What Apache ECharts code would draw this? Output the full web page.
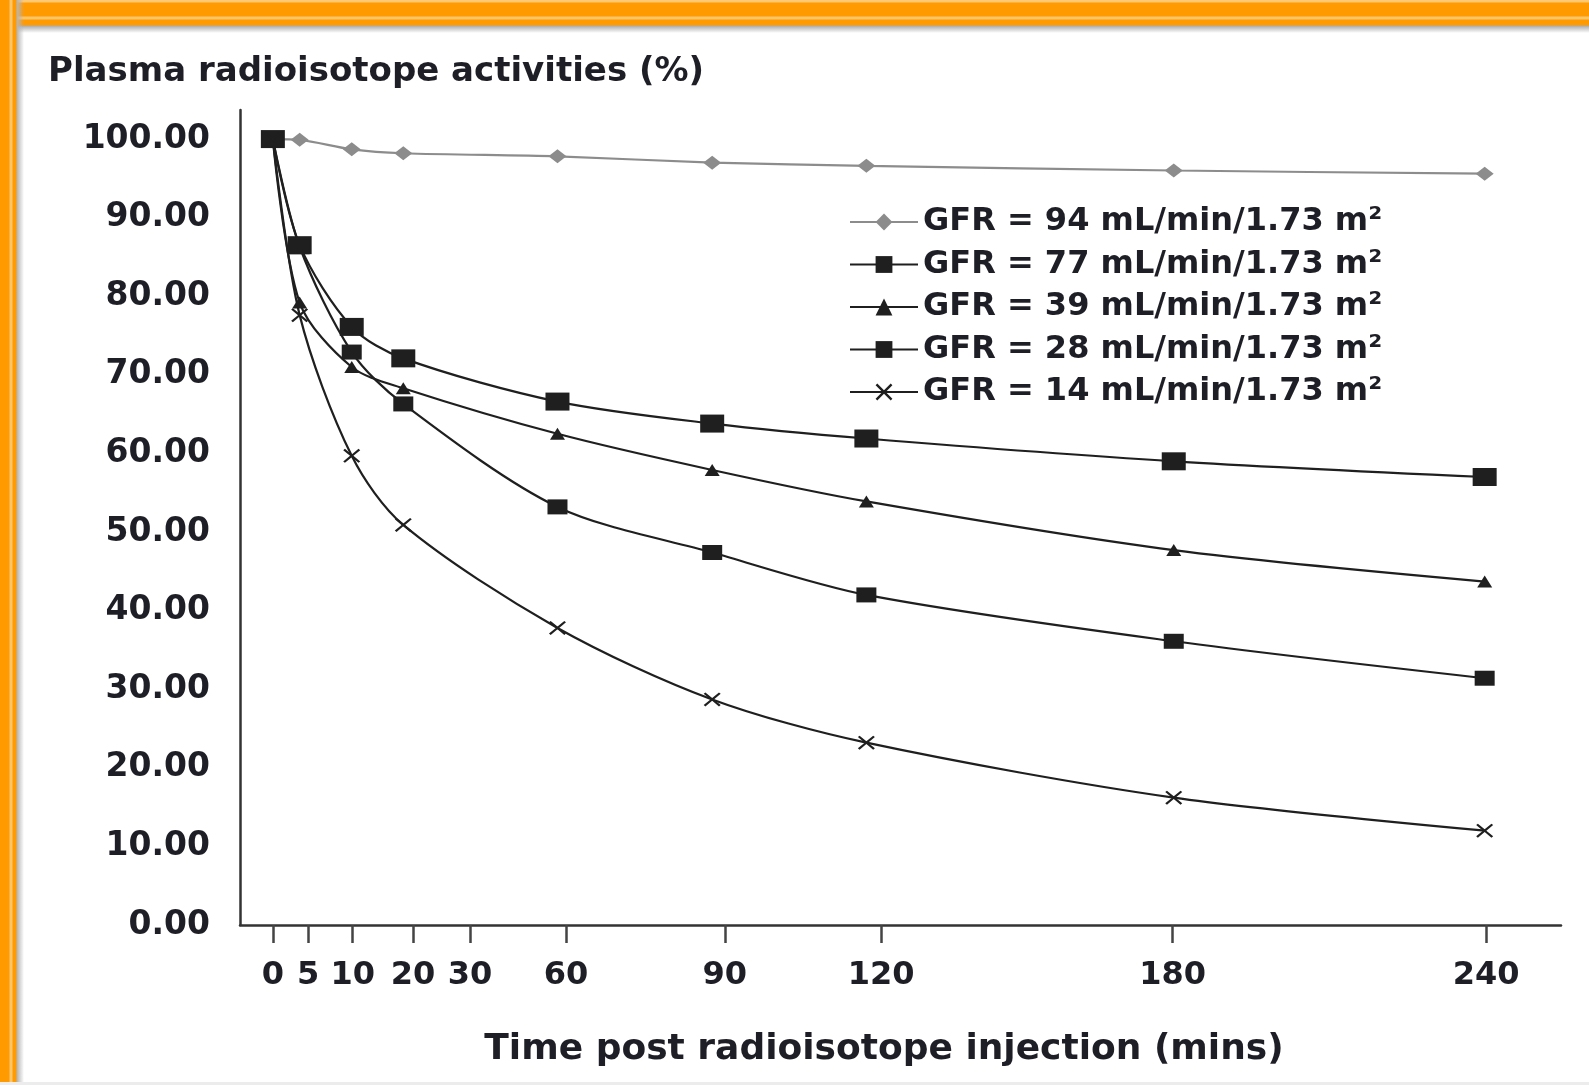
<!DOCTYPE html>
<html>
<head>
<meta charset="utf-8">
<title>Plasma radioisotope activities</title>
<script src="https://cdn.jsdelivr.net/npm/echarts@6/dist/echarts.min.js"></script>
<style>
    html, body { margin: 0; padding: 0; background: #fff; }
    #chart { position: absolute; left: 0; top: 0; width: 1589px; height: 1085px; }
    /* orange picture frame, top and left edges only */
    .band-left {
        position: absolute; left: 0; top: 0; width: 24px; height: 1085px; pointer-events: none;
        background: linear-gradient(to right, #ff9a00 0, #ff9a00 9px, #ffc56a 10px, #ffc56a 12px, #ff9a00 13px, #ff9a00 16px, #b5b5b5 17px, rgba(255,255,255,0) 24px);
    }
    .band-top {
        position: absolute; left: 0; top: 0; width: 1589px; height: 33px; pointer-events: none;
        background: linear-gradient(to bottom, #ffc873 0, #ffc873 2px, #ff9a00 3px, #ff9a00 16px, #ffc56a 17px, #ffc56a 19px, #ff9a00 20px, #ff9a00 25px, #adadad 26px, rgba(255,255,255,0) 33px);
    }
    .band-bottom { position: absolute; left: 0; bottom: 0; width: 1589px; height: 3px; background: #ececec; pointer-events: none; }
</style>
</head>
<body>
<div id="chart"></div>
<div class="band-top"></div>
<div class="band-left"></div>
<div class="band-bottom"></div>
<script>
    // x positions of the tick labels as they sit on the drawn axis (not evenly spaced in the original)
    var tickLabels = ['0', '5', '10', '20', '30', '60', '90', '120', '180', '240'];
    var tickAt = [0, 7, 15.8, 27.7, 39, 58, 89.4, 120.3, 178, 240];
    // where the sampling points sit along that axis
    var plotTime = [0, 5.3, 15.6, 25.8, 56.3, 86.9, 117.4, 178.2, 239.7];
    var yTicks = [0, 10, 20, 30, 40, 50, 60, 70, 80, 90, 100];

    var seriesNames = [
        'GFR = 94 mL/min/1.73 m²',
        'GFR = 77 mL/min/1.73 m²',
        'GFR = 39 mL/min/1.73 m²',
        'GFR = 28 mL/min/1.73 m²',
        'GFR = 14 mL/min/1.73 m²'
    ];
    var gfr94 = [100, 99.9, 98.7, 98.2, 97.8, 97.0, 96.6, 96.0, 95.6];
    var gfr77 = [100, 86.5, 76.1, 72.1, 66.6, 63.8, 61.9, 59.0, 57.0];
    var gfr39 = [100, 79.2, 71.0, 68.3, 62.5, 57.9, 53.9, 47.7, 43.7];
    var gfr28 = [100, 86.3, 72.9, 66.3, 53.2, 47.4, 42.0, 36.1, 31.4];
    var gfr14 = [100, 77.6, 59.7, 50.9, 37.8, 28.7, 23.2, 16.2, 12.0];

    var font = 'DejaVu Sans';
    var ink = '#1e1e26';
    var crossPath = 'path://M0,1 L1,0 L5,4 L9,0 L10,1 L6,5 L10,9 L9,10 L5,6 L1,10 L0,9 L4,5 Z';

    function pairs(vals) {
        var out = [];
        for (var i = 0; i < plotTime.length; i++) {
            out.push([plotTime[i], vals[i]]);
        }
        return out;
    }

    function makeLine(name, vals, color, symbol, size) {
        return {
            name: name,
            type: 'line',
            data: pairs(vals),
            smooth: 0.3,
            showSymbol: true,
            showAllSymbol: true,
            symbol: symbol,
            symbolSize: size,
            itemStyle: { color: color },
            lineStyle: { color: color, width: 2.2 }
        };
    }

    var chart = echarts.init(document.getElementById('chart'));
    chart.setOption({
        animation: false,
        backgroundColor: '#fff',
        title: {
            text: 'Plasma radioisotope activities (%)',
            left: 43,
            top: 50,
            textStyle: { fontFamily: font, fontWeight: 'bold', fontSize: 34, color: ink }
        },
        grid: { left: 240, right: 28, top: 110, bottom: 160, containLabel: false },
        legend: {
            orient: 'vertical',
            left: 849,
            top: 206,
            padding: 0,
            itemWidth: 68,
            itemHeight: 21,
            itemGap: 10.5,
            selectedMode: false,
            data: seriesNames,
            textStyle: { fontFamily: font, fontWeight: 'bold', fontSize: 32, lineHeight: 32, color: ink }
        },
        xAxis: {
            type: 'value',
            min: -6.5,
            max: 254.8,
            splitLine: { show: false },
            axisLine: { onZero: false, lineStyle: { color: '#333', width: 2.5 } },
            axisTick: { show: true, customValues: tickAt, length: 18, lineStyle: { color: '#444', width: 2.5 } },
            axisLabel: {
                customValues: tickAt,
                margin: 35,
                fontFamily: font,
                fontWeight: 'bold',
                fontSize: 32,
                color: ink,
                formatter: function (v) {
                    var best = 0;
                    for (var i = 1; i < tickAt.length; i++) {
                        if (Math.abs(tickAt[i] - v) < Math.abs(tickAt[best] - v)) best = i;
                    }
                    return tickLabels[best];
                }
            },
            name: 'Time post radioisotope injection (mins)',
            nameLocation: 'middle',
            nameGap: 107,
            nameTextStyle: { fontFamily: font, fontWeight: 'bold', fontSize: 36, color: ink, padding: [0, 33, 0, 0] }
        },
        yAxis: {
            type: 'value',
            min: 0,
            max: 103.7,
            splitLine: { show: false },
            axisLine: { show: true, onZero: false, lineStyle: { color: '#333', width: 2.5 } },
            axisTick: { show: false },
            axisLabel: {
                customValues: yTicks,
                margin: 30,
                fontFamily: font,
                fontWeight: 'bold',
                fontSize: 33,
                color: ink,
                formatter: function (v) { return v.toFixed(2); }
            }
        },
        series: [
            makeLine(seriesNames[0], gfr94, '#8c8c8c', 'diamond', [18, 14]),
            makeLine(seriesNames[1], gfr77, '#1f1f1f', 'rect', [24, 18]),
            makeLine(seriesNames[2], gfr39, '#1f1f1f', 'triangle', [15, 12]),
            makeLine(seriesNames[3], gfr28, '#1f1f1f', 'rect', [20, 15]),
            makeLine(seriesNames[4], gfr14, '#1f1f1f', crossPath, [17, 14])
        ]
    });
</script>
</body>
</html>
